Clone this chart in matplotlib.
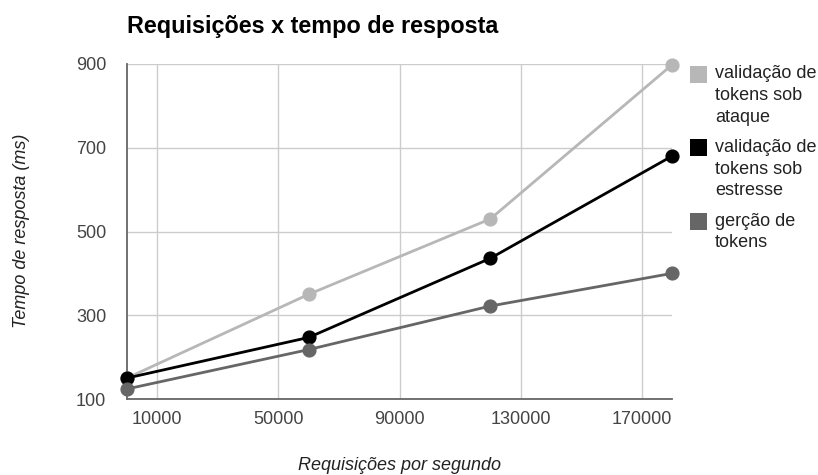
import textwrap
import matplotlib
matplotlib.use("Agg")
import matplotlib.pyplot as plt
from matplotlib.patches import Rectangle

# ---- data ----
requisicoes = [0, 60000, 120000, 180000]
series_names = ["validação de tokens sob ataque",
                "validação de tokens sob estresse",
                "gerção de tokens"]
ataque = [150, 350, 530, 898]
estresse = [150, 247, 436, 680]
geracao = [124, 218, 322, 400]
series_values = [ataque, estresse, geracao]
colors = ["#b7b7b7", "#000000", "#666666"]
x_ticks = [10000, 50000, 90000, 130000, 170000]
y_ticks = [100, 300, 500, 700, 900]

title = "Requisições x tempo de resposta"
x_title = "Requisições por segundo"
y_title = "Tempo de resposta (ms)"

plt.rcParams['font.family'] = ['Liberation Sans', 'DejaVu Sans']

W, H = 818, 475
fig = plt.figure(figsize=(W / 100, H / 100), dpi=100)
L, R, T, B = 127, 672, 64, 399
ax = fig.add_axes([L / W, 1 - B / H, (R - L) / W, (B - T) / H])

for name, vals, c in zip(series_names, series_values, colors):
    ax.plot(requisicoes, vals, color=c, lw=2.0, marker='o', ms=9.2,
            clip_on=False, zorder=3, solid_capstyle='round')

ax.set_xlim(0, 180000)
ax.set_ylim(100, 900)
ax.set_xticks(x_ticks)
ax.set_xticklabels([str(v) for v in x_ticks])
ax.set_yticks(y_ticks)
ax.set_yticklabels([str(v) for v in y_ticks])
ax.tick_params(axis='both', length=0, labelsize=13, colors='#444444')
ax.tick_params(axis='x', pad=9)
ax.tick_params(axis='y', pad=15)
ax.grid(True, color='#cccccc', lw=1.0, zorder=0)
ax.set_axisbelow(True)
for s in ['top', 'right']:
    ax.spines[s].set_visible(False)
for s in ['left', 'bottom']:
    ax.spines[s].set_color('#666666')
    ax.spines[s].set_linewidth(1.3)
    ax.spines[s].set_zorder(2)

fig.text(127 / W, 1 - 33 / H, title, fontsize=16.8, fontweight='bold',
         color='#000000', ha='left', va='baseline')
fig.text(399 / W, 1 - 465 / H, x_title, fontsize=13, style='italic',
         color='#222222', ha='center', va='center')
fig.text(22 / W, 1 - 231 / H, y_title, fontsize=13, style='italic',
         color='#222222', ha='center', va='center', rotation=90)

# legend
y0 = 74
line_h = 21.5
for name, c in zip(series_names, colors):
    lines = textwrap.wrap(name, 12)
    fig.patches.append(Rectangle((690 / W, 1 - (y0 + 8.5) / H), 17 / W, 17 / H,
                                 transform=fig.transFigure, facecolor=c,
                                 edgecolor='none'))
    for j, ln in enumerate(lines):
        fig.text(715 / W, 1 - (y0 + j * line_h) / H, ln, fontsize=13,
                 color='#222222', ha='left', va='center')
    y0 += len(lines) * line_h + 9

fig.savefig("out.png", dpi=100)
